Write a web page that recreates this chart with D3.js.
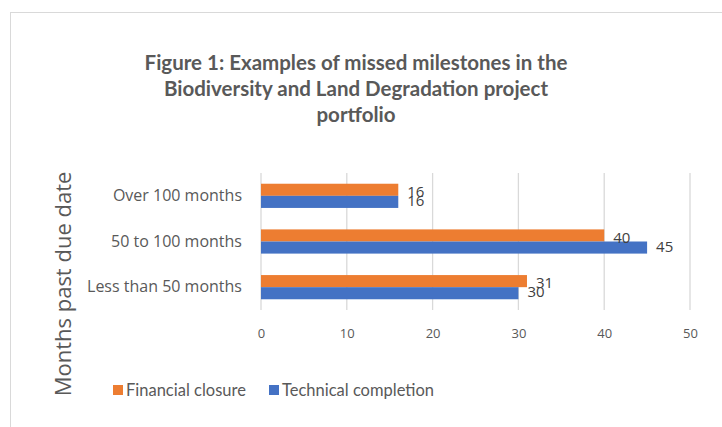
<!DOCTYPE html>
<html>
<head>
<meta charset="utf-8">
<script src="https://cdn.jsdelivr.net/npm/d3@7"></script>
<style>
  body { margin: 0; background: #fff; }
</style>
</head>
<body>
<div id="chart"></div>
<script>
// chart values
var categories = ["Over 100 months", "50 to 100 months", "Less than 50 months"];
var seriesNames = ["Financial closure", "Technical completion"];
var financialClosure = [16, 40, 31];
var technicalCompletion = [16, 45, 30];
var xTicks = [0, 10, 20, 30, 40, 50];
var titleLines = ["Figure 1: Examples of missed milestones in the",
                  "Biodiversity and Land Degradation project",
                  "portfolio"];
var colors = ["#ed7d31", "#4472c4"];

var W = 722, H = 427;
var margin = {top: 173, left: 261, right: 32, bottom: 117};
var width = W - margin.left - margin.right,
    height = H - margin.top - margin.bottom;

var svg = d3.select("#chart").append("svg")
    .attr("width", W)
    .attr("height", H)
    .style("font-family", "'Open Sans', sans-serif");

// outer chart border
svg.append("rect")
    .attr("x", 10.5).attr("y", 12.5)
    .attr("width", W).attr("height", H)
    .attr("fill", "none")
    .attr("stroke", "#d9d9d9");

// title
svg.append("g").selectAll("text")
    .data(titleLines)
    .enter().append("text")
    .attr("x", 356)
    .attr("y", function(d, i) { return 70 + i * 26; })
    .attr("text-anchor", "middle")
    .style("font-family", "Lato, sans-serif")
    .style("font-size", "20.5px")
    .style("font-weight", "bold")
    .attr("fill", "#595959")
    .text(function(d) { return d; });

var g = svg.append("g")
    .attr("transform", "translate(" + margin.left + "," + margin.top + ")");

var x = d3.scaleLinear().domain([0, 50]).range([0, width]);
var y = d3.scaleBand().domain(categories).range([0, height]).paddingInner(0.47).paddingOuter(0.235);
var ySub = d3.scaleBand().domain(seriesNames).range([0, y.bandwidth()]);

// gridlines
g.append("g").selectAll("line")
    .data(xTicks)
    .enter().append("line")
    .attr("x1", function(d) { return x(d); })
    .attr("x2", function(d) { return x(d); })
    .attr("y1", 0).attr("y2", height)
    .attr("stroke", "#d9d9d9")
    .attr("stroke-width", 1.3);

// x tick labels
var xAxis = g.append("g")
    .attr("transform", "translate(0," + height + ")")
    .call(d3.axisBottom(x).tickValues(xTicks).tickSize(0).tickPadding(19));
xAxis.select(".domain").remove();
xAxis.attr("font-family", null).attr("font-size", null);
xAxis.selectAll("text")
    .style("font-size", "13px")
    .attr("fill", "#595959");

// y category labels
var yAxis = g.append("g")
    .call(d3.axisLeft(y).tickSize(0).tickPadding(19));
yAxis.select(".domain").remove();
yAxis.attr("font-family", null).attr("font-size", null);
yAxis.selectAll("text")
    .style("font-size", "16px")
    .attr("fill", "#595959");

var rows = categories.map(function(c, i) {
    return {cat: c, vals: [financialClosure[i], technicalCompletion[i]]};
});

var groups = g.selectAll(".row")
    .data(rows)
    .enter().append("g")
    .attr("class", "row")
    .attr("transform", function(d) { return "translate(0," + y(d.cat) + ")"; });

groups.selectAll("rect")
    .data(function(d) { return d.vals.map(function(v, j) { return {s: seriesNames[j], v: v, j: j}; }); })
    .enter().append("rect")
    .attr("x", 0)
    .attr("y", function(d) { return ySub(d.s); })
    .attr("width", function(d) { return x(d.v); })
    .attr("height", ySub.bandwidth())
    .attr("fill", function(d) { return colors[d.j]; });

// data labels: nudged together like the reference
groups.selectAll(".lbl")
    .data(function(d) { return d.vals.map(function(v, j) { return {s: seriesNames[j], v: v, j: j}; }); })
    .enter().append("text")
    .attr("class", "lbl")
    .attr("x", function(d) { return x(d.v) + 9; })
    .attr("y", function(d) { return ySub(d.s) + ySub.bandwidth() / 2 + (d.j === 0 ? 2 : -1); })
    .attr("dy", "0.35em")
    .style("font-size", "15px")
    .attr("fill", "#404040")
    .text(function(d) { return d.v; });

// axis title
svg.append("text")
    .attr("transform", "translate(71,284) rotate(-90)")
    .attr("text-anchor", "middle")
    .style("font-size", "22px")
    .attr("fill", "#595959")
    .text("Months past due date");

// legend
var legendX = [113, 269];
var legend = svg.append("g").selectAll("g")
    .data(seriesNames)
    .enter().append("g")
    .attr("transform", function(d, i) { return "translate(" + legendX[i] + ",385)"; });
legend.append("rect")
    .attr("width", 10).attr("height", 10)
    .attr("fill", function(d, i) { return colors[i]; });
legend.append("text")
    .attr("x", 13).attr("y", 5)
    .attr("dy", "0.35em")
    .style("font-family", "Lato, sans-serif")
    .style("font-size", "16.5px")
    .attr("fill", "#595959")
    .text(function(d) { return d; });
</script>
</body>
</html>
